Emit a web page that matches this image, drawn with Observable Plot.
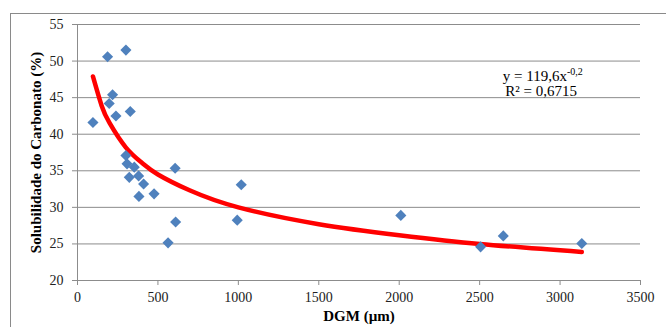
<!DOCTYPE html>
<html>
<head>
<meta charset="utf-8">
<script src="https://cdn.jsdelivr.net/npm/d3@7"></script>
<script src="https://cdn.jsdelivr.net/npm/@observablehq/plot@0.6"></script>
<style>
  html, body { margin: 0; padding: 0; background: #fff; }
  #wrap { position: relative; width: 666px; height: 327px; overflow: hidden; }
  #frame { position: absolute; left: 10px; top: 13px; width: 700px; height: 400px; border-left: 1px solid #8a8a8a; border-top: 1px solid #8a8a8a; }
  #chart { position: absolute; left: 0; top: 0; }
  #chart svg, #chart svg text { font-family: "Liberation Serif", "Times New Roman", serif !important; }
</style>
</head>
<body>
<div id="wrap"><div id="frame"></div><div id="chart"></div></div>
<script>
// Observed points: DGM (µm) vs Solubilidade do Carbonato (%)
const dgm = [96, 187, 301, 218, 197, 239, 328, 301, 308, 353, 322, 380, 411, 382, 476, 607, 610, 563, 1018, 993, 2010, 2506, 2647, 3135];
const solubilidade = [41.6, 50.6, 51.5, 45.4, 44.2, 42.5, 43.1, 37.1, 35.95, 35.5, 34.1, 34.3, 33.2, 31.5, 31.85, 35.35, 28.0, 25.15, 33.1, 28.25, 28.9, 24.6, 26.1, 25.05];

// Power trendline (red curve)
const trendX = [96, 150, 200, 300, 400, 500, 700, 1000, 1500, 2000, 2500, 3135];
const trendY = [47.9, 43.9, 41.5, 38.2, 36.1, 34.5, 32.3, 30.0, 27.7, 26.2, 25.0, 23.9];

const xTicks = [0, 500, 1000, 1500, 2000, 2500, 3000, 3500];
const yTicks = [20, 25, 30, 35, 40, 45, 50, 55];

const points = dgm.map((x, i) => ({x, y: solubilidade[i]}));
const trend = trendX.map((x, i) => ({x, y: trendY[i]}));

const serif = "Liberation Serif";

const plot = Plot.plot({
  width: 666,
  height: 327,
  marginLeft: 77,
  marginRight: 26,
  marginTop: 24,
  marginBottom: 47,
  style: { fontFamily: serif, fontSize: "14px", background: "transparent", color: "#222" },
  x: { domain: [0, 3500] },
  y: { domain: [20, 55] },
  marks: [
    Plot.gridY(yTicks, { stroke: "#8c8c8c", strokeOpacity: 1, strokeWidth: 1 }),
    Plot.ruleX([0], { stroke: "#8c8c8c" }),
    Plot.ruleY([20], { stroke: "#8c8c8c" }),
    Plot.axisY(yTicks, { tickSize: 5, tickPadding: 9, stroke: "#8c8c8c", fill: "#222", fontSize: 14, fontFamily: serif, label: null, tickFormat: d3.format("d") }),
    Plot.axisX(xTicks, { tickSize: 5, tickPadding: 7, stroke: "#8c8c8c", fill: "#222", fontSize: 14, fontFamily: serif, label: null, tickFormat: d3.format("d") }),
    Plot.line(trend, { x: "x", y: "y", stroke: "#ff0000", strokeWidth: 4.5, curve: "natural" }),
    Plot.dot(points, { x: "x", y: "y", symbol: "diamond2", r: 5, fill: "#4f81bd", stroke: "none" }),
    Plot.text(["y = 119,6x"], { x: 3043, y: 47.34, textAnchor: "end", fontSize: 15, fontFamily: serif, fill: "#000", lineAnchor: "bottom" }),
    Plot.text(["-0,2"], { x: 3043, y: 47.34, textAnchor: "start", fontSize: 10, fontFamily: serif, fill: "#000", lineAnchor: "bottom", dy: -6 }),
    Plot.text(["R² = 0,6715"], { x: 2882, y: 45.29, textAnchor: "middle", fontSize: 15, fontFamily: serif, fill: "#000", lineAnchor: "bottom" }),
    Plot.text(["DGM (µm)"], { frameAnchor: "bottom", dy: 40, fontWeight: "bold", fontSize: 15, fontFamily: serif, fill: "#000" }),
    Plot.text(["Solubilidade do Carbonato (%)"], { frameAnchor: "left", dx: -41, rotate: -90, textAnchor: "middle", fontWeight: "bold", fontSize: 15, fontFamily: serif, fill: "#000" })
  ]
});
document.getElementById("chart").appendChild(plot);
</script>
</body>
</html>
